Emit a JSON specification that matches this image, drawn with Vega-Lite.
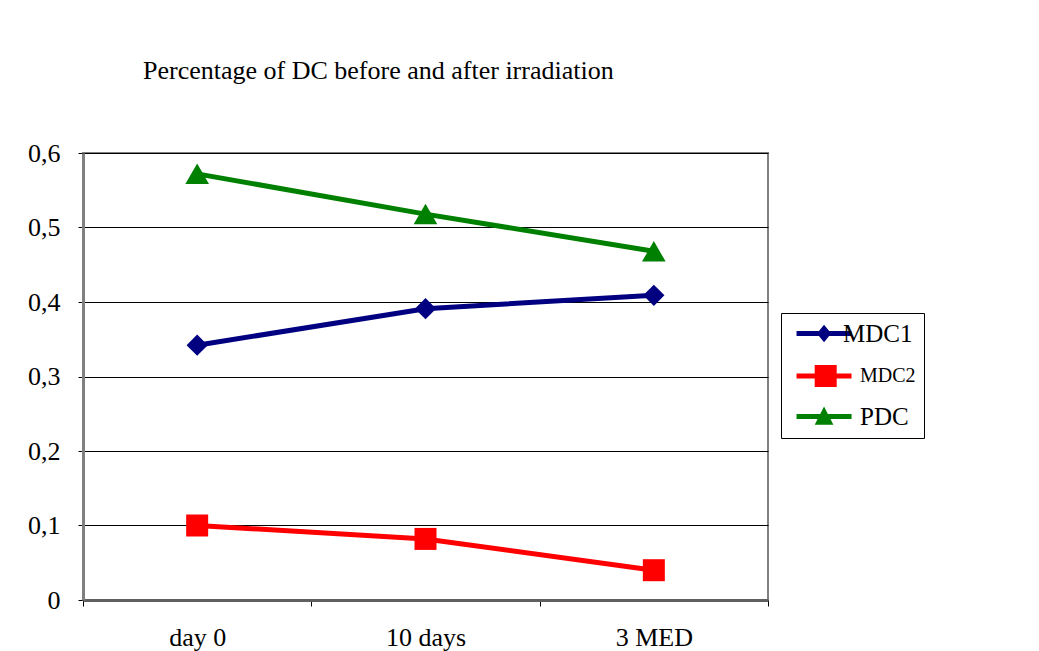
{
  "$schema": "https://vega.github.io/schema/vega-lite/v6.json",
  "autosize": "none",
  "width": 685,
  "height": 447,
  "padding": {"left": 83, "top": 153, "right": 271, "bottom": 51},
  "background": "white",
  "title": {
    "text": "Percentage of DC before and after irradiation",
    "anchor": "start",
    "frame": "group",
    "dx": 60,
    "offset": 56,
    "font": "Liberation Serif",
    "fontSize": 26,
    "fontWeight": "normal",
    "color": "black"
  },
  "data": {
    "values": [
      {"time": "day 0", "series": "MDC1", "value": 0.342},
      {"time": "10 days", "series": "MDC1", "value": 0.391},
      {"time": "3 MED", "series": "MDC1", "value": 0.409},
      {"time": "day 0", "series": "MDC2", "value": 0.100},
      {"time": "10 days", "series": "MDC2", "value": 0.082},
      {"time": "3 MED", "series": "MDC2", "value": 0.040},
      {"time": "day 0", "series": "PDC", "value": 0.572},
      {"time": "10 days", "series": "PDC", "value": 0.518},
      {"time": "3 MED", "series": "PDC", "value": 0.468}
    ]
  },
  "encoding": {
    "x": {
      "field": "time",
      "type": "nominal",
      "sort": ["day 0", "10 days", "3 MED"],
      "scale": {"paddingInner": 0, "paddingOuter": 0},
      "axis": {
        "title": null,
        "labelAngle": 0,
        "tickBand": "extent",
        "labelFont": "Liberation Serif",
        "labelFontSize": 26,
        "labelColor": "black",
        "labelPadding": 18,
        "tickSize": 6,
        "tickColor": "black",
        "domainColor": "#606060",
        "domainWidth": 3,
        "grid": false
      }
    },
    "y": {
      "field": "value",
      "type": "quantitative",
      "scale": {"domain": [0, 0.6], "nice": false},
      "axis": {
        "title": null,
        "values": [0, 0.1, 0.2, 0.3, 0.4, 0.5, 0.6],
        "labelExpr": "datum.value == 0 ? '0' : replace(format(datum.value, '.1f'), '.', ',')",
        "labelFont": "Liberation Serif",
        "labelFontSize": 26,
        "labelColor": "black",
        "tickColor": "black",
        "tickSize": 5,
        "labelPadding": 18,
        "domainColor": "#808080",
        "domainWidth": 3,
        "grid": true,
        "gridColor": "black",
        "gridWidth": 1
      }
    },
    "color": {
      "field": "series",
      "type": "nominal",
      "scale": {"domain": ["MDC1", "MDC2", "PDC"], "range": ["#000080", "#FF0000", "#008000"]},
      "legend": {
        "title": null,
        "orient": "none",
        "legendX": 698,
        "legendY": 160,
        "strokeColor": "black",
        "fillColor": "white",
        "padding": 8,
        "labelFont": "Liberation Serif",
        "labelFontSize": 25,
        "labelColor": "black",
        "symbolSize": 484,
        "labelOffset": 46,
        "rowPadding": 16.5,
        "encode": {
          "symbols": {
            "enter": {
              "shape": {"signal": "datum.value === 'MDC1' ? 'M-0.45,-0.23H4.55V0.23H-0.45Z M2.05,-0.8L2.7,0L2.05,0.8L1.4,0Z' : datum.value === 'MDC2' ? 'M-0.45,-0.23H4.55V0.23H-0.45Z M1.2,-1H3.2V1H1.2Z' : 'M-0.45,-0.23H4.55V0.23H-0.45Z M2.05,-0.9L2.9,0.75H1.2Z'"}
            },
            "update": {
              "shape": {"signal": "datum.value === 'MDC1' ? 'M-0.45,-0.23H4.55V0.23H-0.45Z M2.05,-0.8L2.7,0L2.05,0.8L1.4,0Z' : datum.value === 'MDC2' ? 'M-0.45,-0.23H4.55V0.23H-0.45Z M1.2,-1H3.2V1H1.2Z' : 'M-0.45,-0.23H4.55V0.23H-0.45Z M2.05,-0.9L2.9,0.75H1.2Z'"},
              "fill": {"scale": "color", "field": "value"},
              "stroke": {"value": "transparent"},
              "strokeWidth": {"value": 0},
              "opacity": {"value": 1},
              "fillOpacity": {"value": 1}
            }
          },
          "labels": {
            "update": {
              "text": {"signal": "datum.value === 'MDC1' ? 'MDC1\u00a0\u00a0\u00a0\u00a0' : datum.label"},
              "fontSize": {"signal": "datum.value === 'MDC2' ? 20 : 25"},
              "dx": {"signal": "datum.value === 'MDC1' ? -17 : 0"}
            }
          }
        }
      }
    }
  },
  "layer": [
    {"mark": {"type": "line", "strokeWidth": 5}},
    {
      "transform": [{"filter": "datum.series === 'MDC1'"}],
      "mark": {"type": "point", "shape": "diamond", "filled": true, "opacity": 1, "size": 450}
    },
    {
      "transform": [{"filter": "datum.series === 'MDC2'"}],
      "mark": {"type": "point", "shape": "square", "filled": true, "opacity": 1, "size": 484}
    },
    {
      "transform": [{"filter": "datum.series === 'PDC'"}],
      "mark": {"type": "point", "shape": "triangle-up", "filled": true, "opacity": 1, "size": 560}
    }
  ],
  "config": {
    "view": {"stroke": "#808080", "strokeWidth": 2}
  }
}
